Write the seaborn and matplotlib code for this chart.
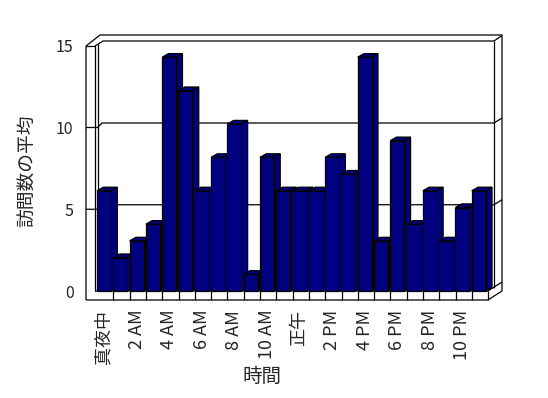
import matplotlib
matplotlib.use("Agg")
import matplotlib.pyplot as plt
from matplotlib.patches import Polygon
import seaborn as sns

# average visits per hour of the day
hours = ["真夜中", "1 AM", "2 AM", "3 AM", "4 AM", "5 AM", "6 AM", "7 AM",
         "8 AM", "9 AM", "10 AM", "11 AM", "正午", "1 PM", "2 PM", "3 PM",
         "4 PM", "5 PM", "6 PM", "7 PM", "8 PM", "9 PM", "10 PM", "11 PM"]
visits = [6, 2, 3, 4, 14, 12, 6, 8, 10, 1, 8, 6,
          6, 6, 8, 7, 14, 3, 9, 4, 6, 3, 5, 6]
yticks = [0, 5, 10, 15]

sns.set_style("white")
plt.rcParams['font.family'] = ['Noto Sans CJK JP', 'DejaVu Sans']

W, H = 548, 398
fig = plt.figure(figsize=(W / 100, H / 100), dpi=100)
# axes covers the whole 3d box: x 86..502 px, y 35..300 px
AL, AR, AT, AB = 86, 502, 35, 300
ax = fig.add_axes([AL / W, (H - AB) / H, (AR - AL) / W, (AB - AT) / H])

sx = 16.3   # px per category
sy = 16.7   # px per value unit

navy = "#000080"
sns.barplot(x=hours, y=visits, color=navy, saturation=1, width=0.86,
            edgecolor="black", linewidth=0.9, ax=ax)
ax.set_xlim(-0.43 - 11 / sx, 23.57 + 14 / sx)
ax.set_ylim(-(AB - 291) / sy, (291 - AT) / sy)

# fake depth for the bars: top and side faces
ddx, ddy = 6.3 / sx, 3.6 / sy
for i, p in enumerate(ax.patches):
    x, w, h = p.get_x(), p.get_width(), p.get_height()
    p.set_zorder(3 + i * 0.01 + 0.005)
    top = Polygon([(x, h), (x + ddx, h + ddy), (x + w + ddx, h + ddy), (x + w, h)],
                  closed=True, fc=navy, ec="black", lw=0.9, zorder=3 + i * 0.01)
    side = Polygon([(x + w, 0), (x + w + ddx, ddy), (x + w + ddx, h + ddy), (x + w, h)],
                   closed=True, fc=navy, ec="black", lw=0.9, zorder=3 + i * 0.01)
    ax.add_patch(top)
    ax.add_patch(side)


def fx(px):
    return (px - AL) / (AR - AL)


def fy(py):
    return (AB - py) / (AB - AT)


def seg(pts, z=1):
    ax.plot([fx(a) for a, b in pts], [fy(b) for a, b in pts], color="black",
            lw=0.9, transform=ax.transAxes, clip_on=False, zorder=z,
            solid_capstyle="butt")


# box frame
seg([(86, 300), (86, 46), (100, 35), (502, 35), (502, 291), (488, 300), (86, 300)])
seg([(86, 46), (95, 46), (95, 291)])
seg([(95, 46), (103, 41), (494, 41), (502, 35.5)])
seg([(98, 44), (98, 288)])
seg([(494, 41), (494, 288)])
seg([(95, 291), (488, 291), (502, 282)], z=2)
seg([(488, 291), (488, 300)], z=2)
# floor dividers
for k in range(1, 24):
    xp = 97 + k * sx
    seg([(xp, 291), (xp, 300)], z=2)

# grid lines on back wall, with stubs on the side walls
for v in yticks[1:3]:
    yf = 291 - 16.35 * v
    yb = yf - 4.5
    seg([(86, yf), (97.5, yf), (102, yb), (494, yb), (502, yb - 5)])

# ticks and labels
ax.set_xticks(range(0, 24, 2))
ax.set_xticklabels(hours[::2], rotation=90, fontsize=13)
ax.set_yticks([v * 16.35 / sy for v in yticks])
ax.set_yticklabels([str(v) for v in yticks], fontsize=11.5)
ax.tick_params(axis="both", length=0)
ax.tick_params(axis="x", pad=7)
ax.tick_params(axis="y", pad=9)
for s in ax.spines.values():
    s.set_visible(False)
ax.set_facecolor("white")

ax.set_ylabel("訪問数の平均", fontsize=13.5)
ax.yaxis.set_label_coords(fx(38), fy(171))
ax.set_xlabel("時間", fontsize=14)
ax.xaxis.set_label_coords(fx(262), fy(366))

fig.savefig("out.png", dpi=100, facecolor="white")
